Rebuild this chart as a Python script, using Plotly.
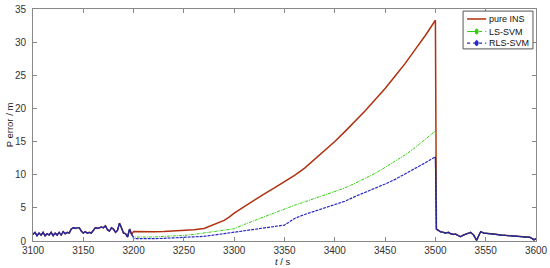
import plotly.graph_objects as go

# shared segment before 3200 s (all three overlap; blue drawn on top)
t_pre = [3100, 3102, 3104, 3106, 3108, 3110, 3112, 3114, 3116, 3118, 3120, 3122, 3124, 3126, 3128,
         3130, 3132, 3134, 3136, 3138, 3140, 3142, 3144, 3146, 3148, 3150, 3152, 3154, 3156, 3158,
         3160, 3162, 3164, 3166, 3168, 3170, 3172, 3174, 3176, 3178, 3180, 3182, 3184, 3186, 3188,
         3190, 3192, 3194, 3196, 3198]
v_pre = [1.0, 1.3, 0.8, 1.2, 0.9, 1.3, 0.8, 1.1, 0.9, 1.3, 0.8, 1.2, 0.9, 1.3, 0.9,
         1.4, 1.1, 1.3, 1.2, 1.8, 2.0, 1.9, 2.0, 2.0, 1.5, 1.2, 1.4, 1.2, 1.3, 1.2,
         1.6, 2.0, 1.9, 2.0, 2.1, 2.0, 2.3, 1.7, 1.5, 2.0, 1.8, 1.3, 1.6, 2.7, 1.8,
         1.2, 1.1, 0.6, 1.8, 1.0]

# shared segment after 3500 s
t_post = [3501, 3503, 3505, 3508, 3510, 3513, 3515, 3518, 3520, 3523, 3525, 3528, 3531, 3535, 3538,
          3540, 3541, 3543, 3545, 3548, 3552, 3556, 3560, 3565, 3570, 3575, 3580, 3585, 3590, 3594,
          3597, 3598, 3600]
v_post = [1.8, 1.6, 1.4, 1.3, 1.2, 1.3, 1.1, 1.0, 1.05, 0.8, 0.65, 0.9, 1.1, 1.3, 0.9,
          0.3, 0.1, 0.8, 1.4, 1.2, 1.1, 1.0, 1.0, 0.9, 0.85, 0.8, 0.75, 0.7, 0.6, 0.55,
          0.3, 0.15, 0.4]

t_ins = [3200, 3210, 3220, 3230, 3240, 3250, 3260, 3270, 3280, 3285, 3290, 3295, 3300, 3310, 3320,
         3330, 3340, 3350, 3360, 3370, 3380, 3390, 3400, 3410, 3420, 3430, 3440, 3450, 3460, 3470,
         3480, 3490, 3500]
v_ins = [1.45, 1.4, 1.4, 1.45, 1.5, 1.6, 1.7, 1.9, 2.5, 2.9, 3.1, 3.6, 4.2, 5.2, 6.2,
         7.1, 8.0, 8.9, 9.9, 11.0, 12.3, 13.6, 15.0, 16.5, 18.0, 19.6, 21.3, 23.0, 24.9, 26.8,
         28.9, 31.0, 33.3]

t_ls = [3200, 3210, 3220, 3230, 3240, 3250, 3260, 3270, 3280, 3290, 3300, 3310, 3320, 3330, 3340,
        3350, 3360, 3370, 3380, 3390, 3400, 3410, 3420, 3430, 3440, 3450, 3460, 3470, 3480, 3490, 3500]
v_ls = [0.6, 0.55, 0.6, 0.7, 0.75, 0.85, 1.0, 1.2, 1.4, 1.6, 1.85, 2.5, 3.1, 3.6, 4.2,
        4.8, 5.4, 5.9, 6.4, 6.9, 7.4, 8.0, 8.7, 9.4, 10.2, 11.1, 12.0, 13.0, 14.1, 15.3, 16.6]

t_rls = [3200, 3202, 3210, 3220, 3230, 3240, 3250, 3260, 3270, 3280, 3290, 3300, 3310, 3320, 3330,
         3340, 3350, 3355, 3360, 3370, 3380, 3390, 3400, 3410, 3420, 3430, 3440, 3450, 3460, 3470,
         3480, 3490, 3500]
v_rls = [0.4, 0.35, 0.3, 0.35, 0.4, 0.45, 0.5, 0.6, 0.7, 0.9, 1.1, 1.4, 1.6, 1.8, 2.0,
         2.2, 2.4, 2.9, 3.4, 4.0, 4.5, 5.0, 5.5, 6.0, 6.7, 7.3, 7.9, 8.6, 9.3, 10.1,
         10.9, 11.8, 12.7]

x_ticks = [3100, 3150, 3200, 3250, 3300, 3350, 3400, 3450, 3500, 3550, 3600]
y_ticks = [0, 5, 10, 15, 20, 25, 30, 35]

series_names = ["pure INS", "LS-SVM", "RLS-SVM"]
series_colors = ["#B0300F", "#33CC11", "#2828C0"]

fig = go.Figure()
fig.add_trace(go.Scatter(x=t_pre + t_ins + t_post, y=v_pre + v_ins + v_post, mode="lines",
                         name=series_names[0], showlegend=False,
                         line=dict(color=series_colors[0], width=1.5)))
fig.add_trace(go.Scatter(x=t_pre + t_ls + t_post, y=v_pre + v_ls + v_post, mode="lines",
                         name=series_names[1], showlegend=False,
                         line=dict(color=series_colors[1], width=1, dash="3px,1px,1px,1px")))
fig.add_trace(go.Scatter(x=t_pre + t_rls + t_post, y=v_pre + v_rls + v_post, mode="lines",
                         name=series_names[2], showlegend=False,
                         line=dict(color=series_colors[2], width=1.2, dash="3px,1px")))
fig.add_trace(go.Scatter(x=t_pre + [3200], y=v_pre + [0.6], mode="lines", showlegend=False,
                         line=dict(color="#28289A", width=1.2)))
fig.add_trace(go.Scatter(x=[3500] + t_post, y=[12.7] + v_post, mode="lines", showlegend=False,
                         line=dict(color="#28289A", width=1.2)))

# compact MATLAB-style legend drawn in paper coordinates
shapes = [dict(type="rect", xref="paper", yref="paper", x0=0.855, x1=0.994, y0=0.828, y1=0.991,
               line=dict(color="#555555", width=1), fillcolor="white", layer="above")]
annotations = []
row_y = [0.957, 0.903, 0.853]
for name, col, dash, yy, mk in zip(series_names, series_colors,
                                   ["solid", "dashdot", "dot"], row_y, [False, True, True]):
    shapes.append(dict(type="line", xref="paper", yref="paper", x0=0.863, x1=0.901, y0=yy, y1=yy,
                       line=dict(color=col, width=1.5 if not mk else 1.2, dash=dash), layer="above"))
    if mk:
        shapes.append(dict(type="circle", xref="paper", yref="paper",
                           x0=0.879, x1=0.885, y0=yy - 0.011, y1=yy + 0.011,
                           line=dict(color=col, width=1), fillcolor=col, layer="above"))
    annotations.append(dict(text=name, xref="paper", yref="paper", x=0.903, y=yy,
                            xanchor="left", yanchor="middle", showarrow=False,
                            font=dict(size=9, color="#111111")))

# axis titles
annotations.append(dict(text="P error / m", xref="paper", yref="paper", x=-0.047, y=0.5,
                        textangle=-90, xanchor="center", yanchor="middle", showarrow=False,
                        font=dict(size=9.5, color="#222222")))
annotations.append(dict(text="<i>t</i> / s", xref="paper", yref="paper", x=0.497, y=-0.088,
                        xanchor="center", yanchor="middle", showarrow=False,
                        font=dict(size=9.5, color="#222222")))

axis_common = dict(showgrid=False, zeroline=False, showline=True, linecolor="#888888", linewidth=1,
                   mirror="ticks", ticks="inside", ticklen=4, tickcolor="#888888", automargin=False,
                   tickfont=dict(family="Liberation Sans, Arial, sans-serif", size=10, color="#333333"))

fig.update_layout(
    width=550, height=268,
    margin=dict(l=33, r=14, t=9, b=27),
    paper_bgcolor="white", plot_bgcolor="white",
    font=dict(family="Liberation Sans, Arial, sans-serif", size=10, color="#333333"),
    showlegend=False,
    xaxis=dict(range=[3100, 3600], tickvals=x_ticks, ticktext=[str(v) for v in x_ticks],
               ticklabelstandoff=0, **axis_common),
    yaxis=dict(range=[0, 35], tickvals=y_ticks, ticktext=[str(v) for v in y_ticks],
               ticklabelstandoff=4, **axis_common),
    shapes=shapes,
    annotations=annotations,
)

fig.write_html("out.html", config={"displayModeBar": False},
               post_script="document.body.style.margin='0';document.body.style.padding='0';")
